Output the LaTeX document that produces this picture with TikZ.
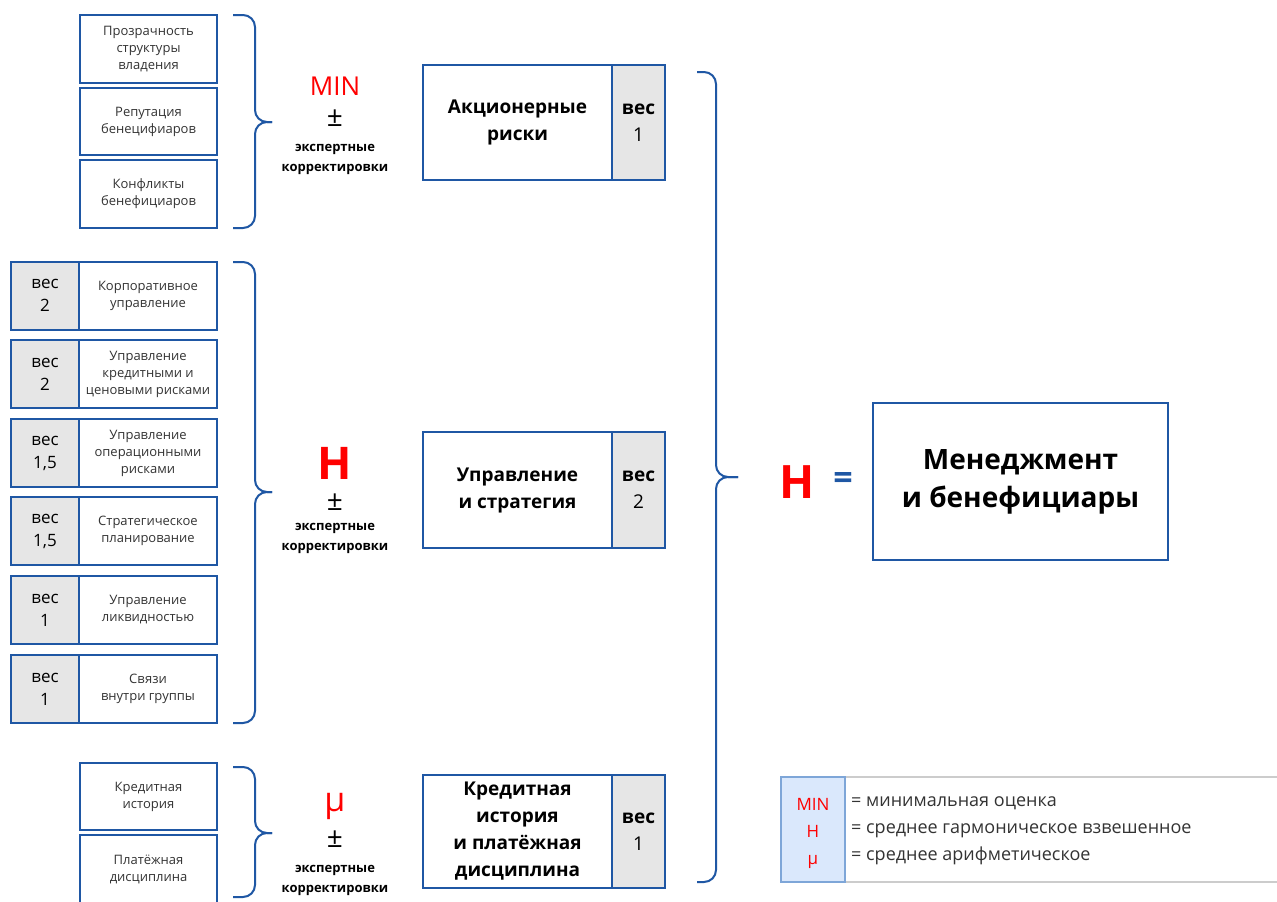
\documentclass[tikz,border=0pt]{standalone}
\usepackage{fontspec}
\setmainfont{Open Sans}
\definecolor{bl}{HTML}{1F57A4}
\definecolor{gr}{HTML}{E6E6E6}
\definecolor{rd}{HTML}{FF0000}
\definecolor{txt}{HTML}{333333}
\definecolor{lgfill}{HTML}{DAE8FC}
\definecolor{lgbord}{HTML}{7EA6D8}
\definecolor{lggray}{HTML}{CCCCCC}
\tikzset{
  sbox/.style={draw=bl, line width=2pt, inner sep=0pt, outer sep=0pt, align=center,
    text=txt, font=\fontsize{13}{17}\selectfont},
  wbox/.style={sbox, fill=gr, text=black, font=\fontsize{17}{23}\selectfont},
  bigbox/.style={draw=bl, line width=2pt, inner sep=0pt, outer sep=0pt, align=center,
    font=\bfseries\fontsize{19}{27}\selectfont},
  bigw/.style={bigbox, fill=gr},
  brace/.style={draw=bl, line width=2pt, rounded corners=12pt},
  oplbl/.style={text=rd, inner sep=0pt, text depth=0pt},
  pm/.style={inner sep=0pt, text depth=0pt, font=\fontsize{28}{28}\selectfont},
  expert/.style={inner sep=0pt, align=center, font=\bfseries\fontsize{13}{20}\selectfont},
}
\begin{document}
\begin{tikzpicture}[x=1pt,y=-1pt]
\useasboundingbox (0,0) rectangle (1277,902);
\fill[white] (0,0) rectangle (1277,902);

% ---- top group
\node[sbox, minimum width=137pt, minimum height=68pt] (t1) at (148.5,49) {Прозрачность\\структуры\\владения};
\node[sbox, minimum width=137pt, minimum height=67pt] (t2) at (148.5,121.5) {Репутация\\бенецифиаров};
\node[sbox, minimum width=137pt, minimum height=68pt] (t3) at (148.5,194) {Конфликты\\бенефициаров};
\coordinate (tb1) at (233,15); \coordinate (tb2) at (233,228);
\coordinate (tt) at (272,122);
\draw[brace] (tb1) -- (255,15) -- (255,122) -- (tt);
\draw[brace] (tb2) -- (255,228) -- (255,122) -- (tt);
\node[oplbl, font=\fontsize{26}{26}\selectfont] (tmin) at (335,86) {MIN};
\node[pm] (tpm) at (335,118) {±};
\node[expert] (tex) at (335,159) {экспертные\\корректировки};

\node[bigbox, minimum width=189pt, minimum height=115pt] (A) at (517.5,122.5) {Акционерные\\риски};
\node[bigw, minimum width=53pt, minimum height=115pt] (Aw) at (638.5,122.5) {вес\\\mdseries 1};

% ---- middle group
\foreach \n/\y/\w/\t in {1/295.5/2/{Корпоративное\\управление},
                         2/374/2/{Управление\\кредитными и\\ценовыми рисками},
                         3/453/{1,5}/{Управление\\операционными\\рисками},
                         4/531/{1,5}/{Стратегическое\\планирование},
                         5/610/1/{Управление\\ликвидностью},
                         6/689/1/{Связи\\внутри группы}}{
  \node[wbox, minimum width=68pt, minimum height=68pt] (mw\n) at (45,\y) {вес\\\w};
  \node[sbox, minimum width=138pt, minimum height=68pt] (m\n) at (148,\y) {\t};
}
\coordinate (mb1) at (233,262); \coordinate (mb2) at (233,723);
\coordinate (mt) at (272,492);
\draw[brace] (mb1) -- (255,262) -- (255,492) -- (mt);
\draw[brace] (mb2) -- (255,723) -- (255,492) -- (mt);
\node[oplbl, font=\bfseries\fontsize{45}{45}\selectfont] (mH) at (335,463) {H};
\node[pm] (mpm) at (335,502) {±};
\node[expert] (mex) at (335,538) {экспертные\\корректировки};

\node[bigbox, minimum width=189pt, minimum height=116pt] (U) at (517.5,490) {Управление\\и стратегия};
\node[bigw, minimum width=53pt, minimum height=116pt] (Uw) at (638.5,490) {вес\\\mdseries 2};

% ---- bottom group
\node[sbox, minimum width=137pt, minimum height=67pt] (b1) at (148.5,796.5) {Кредитная\\история};
\node[sbox, minimum width=137pt, minimum height=68pt] (b2) at (148.5,869) {Платёжная\\дисциплина};
\coordinate (bb1) at (233,767); \coordinate (bb2) at (233,897);
\coordinate (bt) at (272,833);
\draw[brace] (bb1) -- (255,767) -- (255,833) -- (bt);
\draw[brace] (bb2) -- (255,897) -- (255,833) -- (bt);
\node[oplbl, font=\fontsize{34}{34}\selectfont] (bmu) at (335,802) {μ};
\node[pm] (bpm) at (335,839) {±};
\node[expert] (bex) at (335,880) {экспертные\\корректировки};

\node[bigbox, minimum width=189pt, minimum height=113pt] (K) at (517.5,831.5) {Кредитная\\история\\и платёжная\\дисциплина};
\node[bigw, minimum width=53pt, minimum height=113pt] (Kw) at (638.5,831.5) {вес\\\mdseries 1};

% ---- right brace and result
\coordinate (rb1) at (697,72); \coordinate (rb2) at (697,882);
\coordinate (rt) at (738,477);
\draw[brace] (rb1) -- (716,72) -- (716,477) -- (rt);
\draw[brace] (rb2) -- (716,882) -- (716,477) -- (rt);
\node[oplbl, font=\bfseries\fontsize{46}{46}\selectfont] (rH) at (797,482) {H};
\node[inner sep=0pt, text=bl, font=\bfseries\fontsize{34}{34}\selectfont] (eq) at (843,481) {=};
\node[bigbox, minimum width=295pt, minimum height=157pt, font=\bfseries\fontsize{28}{38}\selectfont] (M) at (1020.5,481.5) {Менеджмент\\и бенефициары};

% ---- legend
\draw[lggray, line width=1.5pt] (845,777) -- (1277,777);
\draw[lggray, line width=1.5pt] (845,882) -- (1277,882);
\node[draw=lgbord, fill=lgfill, line width=1.2pt, minimum width=64pt, minimum height=105pt, inner sep=0pt] (lg) at (813,829.5) {};
\node[oplbl, align=center, font=\fontsize{17}{27}\selectfont] (lgs) at (813,831) {MIN\\H\\μ};
\node[inner sep=0pt, anchor=west, align=left, text=txt, font=\fontsize{18}{27}\selectfont] (lgt) at (851,831) {= минимальная оценка\\= среднее гармоническое взвешенное\\= среднее арифметическое};
\end{tikzpicture}
\end{document}
